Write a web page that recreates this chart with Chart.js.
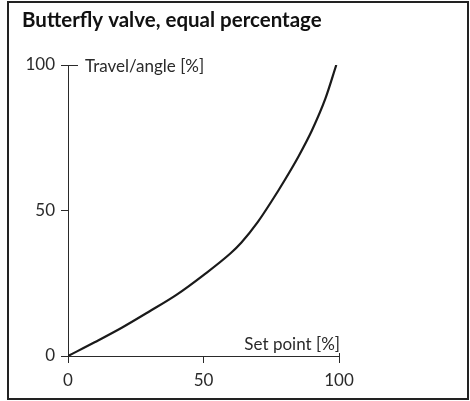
<!DOCTYPE html>
<html>
<head>
<meta charset="utf-8">
<script src="https://cdn.jsdelivr.net/npm/chart.js@4/dist/chart.umd.min.js"></script>
<style>
  body { margin: 0; background: #fff; }
  canvas { display: block; }
</style>
</head>
<body>
<canvas id="valveChart" width="470" height="401"></canvas>
<script>
// set point [%] vs. travel/angle [%]
var setPoint = [0, 10, 20, 30, 40, 50, 60, 64, 70, 75, 80, 85, 90, 95, 99];
var travel   = [0, 4.8, 9.8, 15.3, 21, 27.8, 35.3, 39, 46, 53, 60.5, 68.5, 77.5, 88.5, 100];
var tickValues = [0, 50, 100];

var title = 'Butterfly valve, equal percentage';
var xTitle = 'Set point [%]';
var yTitle = 'Travel/angle [%]';

var ink = '#2a2a2a';
var font = 'Lato, "Open Sans", sans-serif';

var points = setPoint.map(function (x, i) {
    return { x: x, y: travel[i] };
});

// frame, heading, axis captions and the longer end ticks
var decor = {
    id: 'decor',
    afterDraw: function (chart) {
        var c = chart.ctx;
        var xs = chart.scales.x;
        var ys = chart.scales.y;
        c.save();
        c.strokeStyle = '#222';
        c.lineWidth = 2;
        c.strokeRect(8, 2, 460, 397);

        c.fillStyle = '#111';
        c.font = 'bold 20.5px ' + font;
        c.textBaseline = 'alphabetic';
        c.fillText(title, 22, 27);

        c.fillStyle = ink;
        c.font = '17px ' + font;
        c.textAlign = 'left';
        c.fillText(yTitle, 85, 72);
        c.textAlign = 'right';
        c.fillText(xTitle, xs.getPixelForValue(100) + 1, 350);

        c.strokeStyle = ink;
        c.lineWidth = 1;
        var y100 = Math.round(ys.getPixelForValue(100)) + 0.5;
        var x0 = xs.getPixelForValue(0);
        c.beginPath();
        c.moveTo(x0, y100);
        c.lineTo(x0 + 10, y100);
        var x100 = Math.round(xs.getPixelForValue(100)) + 0.5;
        var y0 = ys.getPixelForValue(0);
        c.moveTo(x100, y0);
        c.lineTo(x100, y0 - 3);
        c.stroke();
        c.restore();
    }
};

new Chart(document.getElementById('valveChart'), {
    type: 'line',
    data: {
        datasets: [{
            data: points,
            borderColor: '#1a1a1a',
            borderWidth: 2.2,
            pointRadius: 0,
            cubicInterpolationMode: 'monotone',
            fill: false
        }]
    },
    options: {
        responsive: false,
        animation: false,
        layout: { padding: { left: 0, right: 131, top: 65, bottom: 0 } },
        plugins: {
            legend: { display: false },
            tooltip: { enabled: false }
        },
        scales: {
            x: {
                type: 'linear',
                min: 0,
                max: 100,
                afterFit: function (scale) { scale.height = 45; },
                afterBuildTicks: function (scale) {
                    scale.ticks = tickValues.map(function (v) { return { value: v }; });
                },
                grid: { drawOnChartArea: false, tickLength: 7, color: ink, lineWidth: 1 },
                border: { display: true, color: ink, width: 1 },
                ticks: { color: ink, padding: 7, font: { family: font, size: 17 } }
            },
            y: {
                type: 'linear',
                min: 0,
                max: 100,
                afterFit: function (scale) { scale.width = 68; },
                afterBuildTicks: function (scale) {
                    scale.ticks = tickValues.map(function (v) { return { value: v }; });
                },
                grid: { drawOnChartArea: false, tickLength: 7, color: ink, lineWidth: 1 },
                border: { display: true, color: ink, width: 1 },
                ticks: { color: ink, padding: 6, font: { family: font, size: 17 } }
            }
        }
    },
    plugins: [decor]
});
</script>
</body>
</html>
